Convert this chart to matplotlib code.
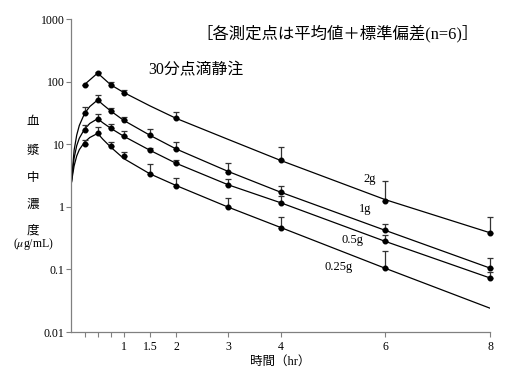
import numpy as np
import matplotlib.pyplot as plt
from matplotlib.ticker import FixedLocator, NullFormatter, NullLocator

plt.rcParams['font.family'] = ['Liberation Serif', 'Noto Sans CJK JP']
plt.rcParams['mathtext.fontset'] = 'stix'

# measured points (mean and mean + SD)
t_2g = [0.25, 0.5, 0.75, 1, 2, 4, 6, 8]
m_2g = [90, 137, 89, 67, 25.9, 5.5, 1.25, 0.385]
u_2g = [90, 144, 97, 74, 32.3, 8.9, 2.56, 0.69]

t_1g = [0.25, 0.5, 0.75, 1, 1.5, 2, 3, 4, 6, 8]
m_1g = [32, 51, 34, 24, 13.9, 8.4, 3.66, 1.71, 0.42, 0.105]
u_1g = [40, 62, 38, 27.3, 17.3, 10.9, 4.96, 2.13, 0.54, 0.15]

t_05g = [0.25, 0.5, 0.75, 1, 1.5, 2, 3, 4, 6, 8]
m_05g = [16.7, 25.6, 18.4, 13.6, 8.0, 4.96, 2.24, 1.16, 0.28, 0.073]
u_05g = [20.6, 30.8, 21.1, 16.1, 8.8, 5.7, 2.76, 1.48, 0.35, 0.090]

t_025g = [0.25, 0.5, 0.75, 1, 1.5, 2, 3, 4, 6]
m_025g = [10.0, 14.9, 9.2, 6.5, 3.36, 2.19, 0.985, 0.467, 0.104]
u_025g = [11.9, 18.6, 10.9, 7.5, 4.85, 2.86, 1.39, 0.69, 0.20]

# fitted curves
ct_2g = [0.25, 0.5, 0.75, 1, 1.5, 2, 3, 4, 6, 8]
cv_2g = [90, 137, 89, 67, 41, 25.9, 11.9, 5.5, 1.3, 0.385]

ct = [0, 0.05, 0.1, 0.15, 0.25, 0.35, 0.5, 0.6, 0.75, 1, 1.5, 2, 3, 4, 6, 8]
cv_1g = [2.5, 8, 14, 20, 31, 40, 51, 43, 34, 24, 13.9, 8.4, 3.66, 1.71, 0.42, 0.105]
cv_05g = [2.5, 6, 9.5, 12.5, 17.5, 21.5, 25.6, 22, 18.0, 13.4, 8.0, 4.96, 2.24, 1.16, 0.28, 0.073]
cv_025g = [2.5, 4.5, 6.5, 8.2, 10.8, 12.8, 14.9, 12.0, 9.0, 5.9, 3.36, 2.19, 0.985, 0.467, 0.104, 0.024]

fig = plt.figure(figsize=(5.18, 3.81), dpi=100)
ax = fig.add_axes([0.138, 0.1286, 0.808, 0.8214])

ax.plot(ct_2g, cv_2g, color='black', lw=0.9)
for cv in (cv_1g, cv_05g, cv_025g):
    ax.plot(ct, cv, color='black', lw=0.9)

for t, m, u in ((t_2g, m_2g, u_2g), (t_1g, m_1g, u_1g),
                (t_05g, m_05g, u_05g), (t_025g, m_025g, u_025g)):
    m = np.array(m)
    up = np.array(u) - m
    eb = ax.errorbar(t, m, yerr=[np.zeros_like(m), up], fmt='o', color='black',
                     ms=3.3, ecolor='#333333', elinewidth=0.9, capsize=2.3, capthick=0.9)
    for a in eb.get_children():
        a.set_clip_on(False)

ax.set_yscale('log')
ax.set_ylim(0.01, 1000)
ax.set_xlim(0, 8)
ax.yaxis.set_major_locator(FixedLocator([0.01, 0.1, 1, 10, 100, 1000]))
ax.yaxis.set_minor_locator(NullLocator())
ax.set_yticklabels(['0.01', '0.1', '1', '10', '100', '1000'])
ax.set_xticks([1, 1.5, 2, 3, 4, 6, 8])
ax.set_xticklabels(['1', '1.5', '2', '3', '4', '6', '8'])
ax.xaxis.set_minor_locator(FixedLocator([0.25, 0.5, 0.75]))
ax.xaxis.set_minor_formatter(NullFormatter())

for s in ('top', 'right'):
    ax.spines[s].set_visible(False)
for s in ('left', 'bottom'):
    ax.spines[s].set_color('#808080')
    ax.spines[s].set_linewidth(0.9)
ax.tick_params(which='both', direction='out', length=3.6, width=0.8,
               color='#808080', labelsize=8.5)
ax.tick_params(axis='y', pad=1.5)
ax.tick_params(axis='x', pad=3)

# y label, stacked vertically
for ch, yy in zip('血漿中濃度', [122, 151, 178, 205, 231]):
    fig.text(33 / 518, 1 - yy / 381, ch, fontsize=9, ha='center', va='center')
fig.text(33 / 518, 1 - 244 / 381, '($\\mu$g/mL)', fontsize=8.5, ha='center', va='center')

fig.text(280 / 518, 1 - 362 / 381, '時間（hr）', fontsize=9, ha='center', va='center')

fig.text(338 / 518, 1 - 33 / 381, '［各測定点は平均値＋標準偏差(n=6)］', fontsize=11.8,
         ha='center', va='center')
fig.text(148 / 518, 1 - 70 / 381, '30分点滴静注', fontsize=11.4, ha='left', va='center')

for lab, x, y in (('2g', 370, 179), ('1g', 365, 209), ('0.5g', 352, 240), ('0.25g', 339, 267)):
    fig.text(x / 518, 1 - y / 381, lab, fontsize=9, ha='center', va='center')

fig.savefig('out.png', dpi=100)
